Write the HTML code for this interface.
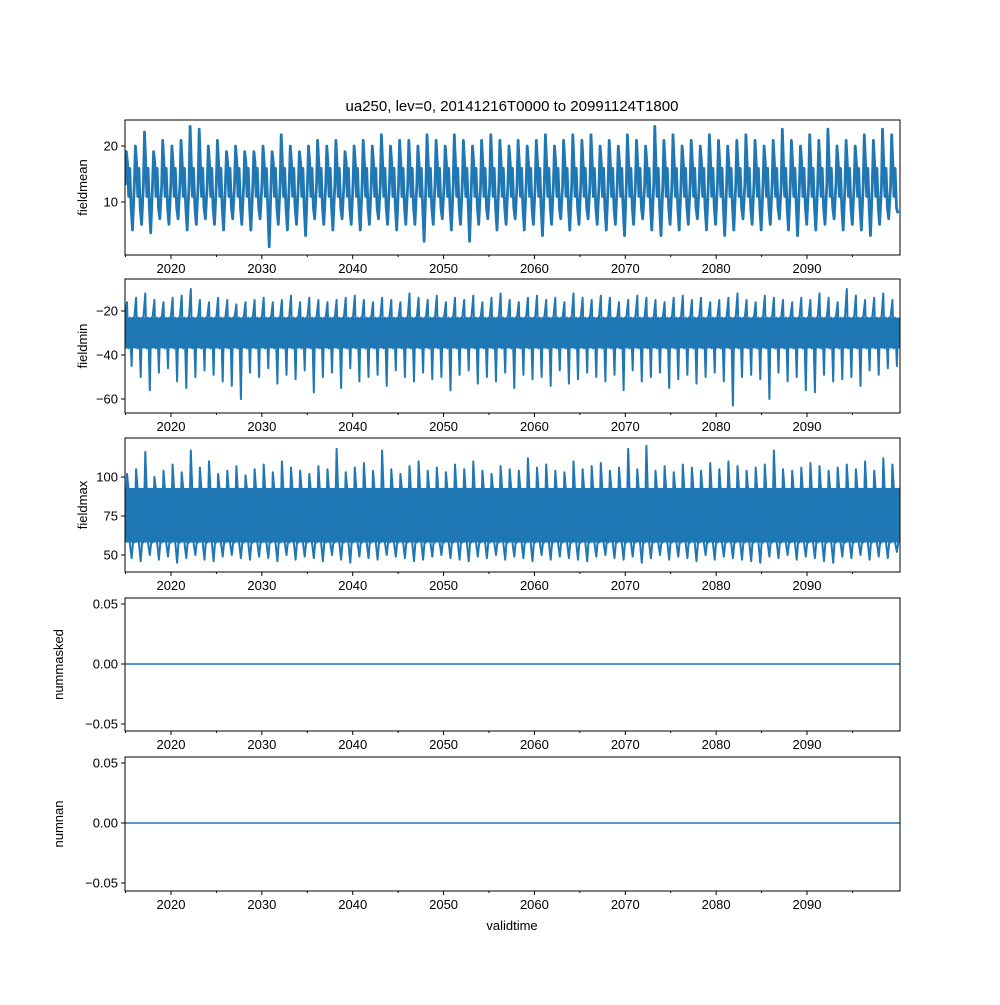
<!DOCTYPE html>
<html><head><meta charset="utf-8"><style>
body{margin:0;background:#fff;}
svg text{font-family:"Liberation Sans","DejaVu Sans",sans-serif;font-size:13px;fill:#000;}
</style></head><body>
<svg id="chart" width="1000" height="1000" xmlns="http://www.w3.org/2000/svg">
<rect width="1000" height="1000" fill="#fff"/>
<text x="512" y="111" text-anchor="middle" style="font-size:15px">ua250, lev=0, 20141216T0000 to 20991124T1800</text>
<text x="512" y="930" text-anchor="middle">validtime</text>
<g id="panels"></g>
</svg>
<script>
const xTickYears=[2020,2030,2040,2050,2060,2070,2080,2090];
const tStart=2014.96, tEnd=2100.2;
const meanHi=[19,20,22.5,19,21,20,21,23.5,23,20,21,19,20,19,19,20,19,22,20,19,20,21,20,21,19,20,21,20,22,20,21,21,20,22,21,20,22,21,20,21,22,21,20,21,20,21,22,20,21,22,21,22,20,21,20,22,21,20,23.5,21,22,20,21,20,22,21,20,21,22,21,20,21,23,21,20,22,21,23,20,21,20,22,21,23,22];
const meanLo=[5,6,4.5,7,6,7,5,6,7,6,5,7,6,5,7,2,6,5,6,4,7,6,5,7,6,5,6,7,6,5,6,6,3,6,7,5,6,3,6,7,5,6,7,5,6,4,6,7,5,6,7,6,5,6,4,6,7,5,4,6,5,6,7,5,6,4,5,7,6,5,6,7,5,4,6,5,6,7,5,6,5,4,6,7,8];
const meanMid=[13,17,11,16,9];
const minTop=[-16,-14,-12,-15,-16,-14,-13,-10,-15,-16,-14,-15,-17,-16,-15,-14,-16,-15,-13,-16,-14,-15,-16,-15,-14,-13,-15,-16,-14,-15,-16,-12,-14,-15,-13,-16,-14,-15,-13,-16,-14,-12,-15,-16,-14,-13,-15,-14,-16,-12,-14,-15,-13,-14,-16,-15,-13,-14,-15,-16,-14,-13,-15,-14,-16,-15,-14,-12,-15,-16,-13,-14,-15,-16,-14,-15,-12,-14,-16,-10,-13,-15,-14,-12,-15];
const minBot=[-45,-50,-56,-48,-46,-52,-55,-50,-47,-49,-52,-54,-60,-48,-50,-46,-53,-49,-51,-47,-57,-50,-48,-55,-46,-52,-50,-49,-54,-47,-50,-52,-48,-51,-50,-56,-49,-47,-53,-50,-52,-48,-55,-49,-51,-50,-54,-47,-53,-51,-48,-50,-52,-49,-56,-47,-52,-50,-48,-55,-51,-49,-53,-50,-48,-52,-63,-50,-49,-51,-60,-48,-52,-50,-56,-57,-49,-52,-51,-50,-54,-47,-49,-46,-45];
const minCore=[-23,-37];
const maxTop=[102,105,116,100,104,108,103,117,106,110,102,104,107,101,105,108,103,110,106,104,102,107,105,118,103,106,109,104,117,105,102,107,110,104,106,103,108,105,110,104,102,107,105,104,112,106,108,104,103,110,105,107,109,104,106,118,105,120,104,107,103,108,106,104,109,105,110,107,104,106,108,117,105,104,106,109,107,104,106,108,105,110,104,112,108];
const maxBot=[48,46,50,47,49,45,48,50,47,46,49,50,48,47,49,48,46,50,47,49,48,46,50,47,45,49,48,47,50,49,48,46,47,49,50,48,47,46,49,48,50,47,49,48,46,50,47,49,48,47,46,49,50,48,47,49,45,48,50,47,49,48,46,50,47,49,48,47,46,45,49,48,50,47,49,48,46,45,49,48,50,47,49,48,52];
const maxCore=[58,93];
const zeroSeries=[0,0];

const XL=125,XR=900;
function xT(t){return 171+(t-2020)*(636/70);}
const NS="http://www.w3.org/2000/svg";
const g=document.getElementById('panels');
function mk(tag,attrs,parent){const e=document.createElementNS(NS,tag);for(const k in attrs)e.setAttribute(k,attrs[k]);(parent||g).appendChild(e);return e;}
const panels=[
 {name:'fieldmean',top:120,bot:255,v0:20,p0:146,v1:10,p1:202,ticks:[10,20],fmt:v=>String(v)},
 {name:'fieldmin',top:279,bot:413,v0:-20,p0:311,v1:-60,p1:399,ticks:[-60,-40,-20],fmt:v=>'\u2212'+Math.abs(v)},
 {name:'fieldmax',top:438,bot:572,v0:100,p0:477,v1:50,p1:555,ticks:[50,75,100],fmt:v=>String(v)},
 {name:'nummasked',top:598,bot:731,v0:0.05,p0:604,v1:-0.05,p1:724,ticks:[-0.05,0,0.05],fmt:v=>v<0?'\u2212'+Math.abs(v).toFixed(2):v.toFixed(2)},
 {name:'numnan',top:757,bot:891,v0:0.05,p0:763,v1:-0.05,p1:883,ticks:[-0.05,0,0.05],fmt:v=>v<0?'\u2212'+Math.abs(v).toFixed(2):v.toFixed(2)}
];
panels.forEach((p,pi)=>{
 const pg=mk('g',{});
 
 
 const y=v=>p.p0+(v-p.v0)*(p.p1-p.p0)/(p.v1-p.v0);
 const cp=mk('clipPath',{id:'cp'+pi},pg);
 mk('rect',{x:XL,y:p.top,width:XR-XL,height:p.bot-p.top},cp);
 const dg=mk('g',{'clip-path':'url(#cp'+pi+')'},pg);
 let pts=[],sw=1.6;
 if(p.name==='fieldmean'){
  sw=2.8;
  const n=meanHi.length,dt=(tEnd-tStart)/n;
  for(let i=0;i<n;i++){const t=tStart+i*dt;
   pts.push([t,meanMid[0]],[t+dt*0.12,meanHi[i]],[t+dt*0.25,meanMid[1]],[t+dt*0.38,meanMid[2]],[t+dt*0.5,meanMid[3]],[t+dt*0.65,meanMid[4]],[t+dt*0.8,meanLo[i]]);}
 } else if(p.name==='fieldmin'||p.name==='fieldmax'){
  sw=2;
  const top=p.name==='fieldmin'?minTop:maxTop,bot=p.name==='fieldmin'?minBot:maxBot,core=p.name==='fieldmin'?minCore:maxCore;
  const n=top.length,dt=(tEnd-tStart)/n;
  const band=mk('rect',{x:xT(tStart),y:y(Math.max(core[0],core[1])),width:xT(tEnd)-xT(tStart),height:Math.abs(y(core[0])-y(core[1])),fill:'#1f77b4'},dg);
  
  
  for(let i=0;i<n;i++){const t=tStart+i*dt;
   pts.push([t,core[0]],[t+dt*0.2,top[i]],[t+dt*0.35,core[1]],[t+dt*0.5,core[0]],[t+dt*0.7,bot[i]],[t+dt*0.85,core[0]]);}
 } else {
  pts=[[tStart,zeroSeries[0]],[tEnd,zeroSeries[1]]];
 }
 const line=mk('polyline',{points:pts.map(q=>xT(q[0]).toFixed(1)+','+y(q[1]).toFixed(1)).join(' '),fill:'none',stroke:'#1f77b4','stroke-width':sw,'stroke-linejoin':'round'},dg);
 
 
 const fr=mk('rect',{x:XL,y:p.top,width:XR-XL,height:p.bot-p.top,fill:'none',stroke:'#000','stroke-width':1},pg);
 
 
 xTickYears.forEach(yr=>{const X=xT(yr);
  mk('line',{x1:X,x2:X,y1:p.bot,y2:p.bot+4,stroke:'#000'},pg);
  const tx=mk('text',{x:X,y:p.bot+18,'text-anchor':'middle'},pg);tx.textContent=yr;
  
  
 });
 for(let yr=2015;yr<=2100;yr+=5){if(yr%10===0)continue;const X=xT(yr);if(X<XL||X>XR)continue;mk('line',{x1:X,x2:X,y1:p.bot,y2:p.bot+2,stroke:'#000'},pg);}
 p.ticks.forEach(v=>{const Y=y(v);
  mk('line',{x1:XL-4,x2:XL,y1:Y,y2:Y,stroke:'#000'},pg);
  const tx=mk('text',{x:XL-7,y:Y+4.5,'text-anchor':'end'},pg);tx.textContent=p.fmt(v);
  
  
 });
 const lx=p.name.startsWith('num')?63:87;
 const yl=mk('text',{x:lx,y:(p.top+p.bot)/2,'text-anchor':'middle',transform:'rotate(-90 '+lx+' '+(p.top+p.bot)/2+')'},pg);
 yl.textContent=p.name;
 
 
});
</script>
</body></html>
